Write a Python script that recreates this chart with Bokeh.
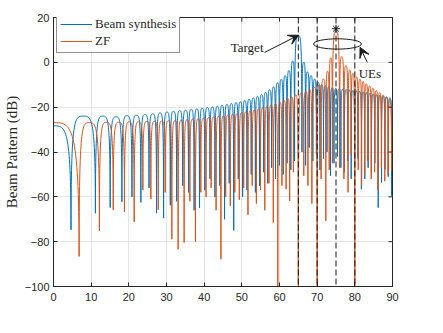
import math
from bokeh.plotting import figure
from bokeh.models import (FixedTicker, Span, Label, Arrow, VeeHead, Range1d)
from bokeh.embed import file_html
from bokeh.resources import INLINE

# ---------------- data ----------------
x_ticks = [0, 10, 20, 30, 40, 50, 60, 70, 80, 90]
y_ticks = [-100, -80, -60, -40, -20, 0, 20]
marked_angles = [65, 70, 75, 80]

# Beam synthesis: value at phi=0, null positions/depths, lobe peaks between nulls, value at phi=90
blue_start = -28.3
blue_null_x = [4.65, 11.13, 15.05, 18.16, 20.83, 23.20, 25.36, 27.35, 29.23, 31.01,
               32.69, 34.30, 35.84, 37.33, 38.77, 40.17, 41.53, 42.86, 44.15, 45.41,
               46.64, 47.85, 49.05, 50.21, 51.36, 52.49, 53.60, 54.69, 55.78, 56.84,
               57.90, 58.94, 59.97, 60.99, 62.01, 63.01, 64.00, 65.96, 66.93, 67.89,
               68.85, 69.80, 70.74, 71.68, 72.61, 73.54, 74.46, 75.39, 76.30, 77.22,
               78.13, 79.03, 79.94, 80.84, 81.74, 82.64, 83.53, 84.42, 85.32, 86.21,
               87.09, 87.99, 88.87, 89.76]
blue_null_y = [-74.7, -67.3, -64.8, -62.2, -60.0, -62.5, -56.0, -67.3, -69.5, -63.7,
               -62.0, -55.0, -58.0, -66.0, -65.0, -57.0, -52.0, -60.0, -55.0, -70.0,
               -54.0, -75.0, -52.0, -60.0, -57.0, -50.0, -58.0, -55.0, -49.0, -54.0,
               -47.0, -52.0, -46.0, -50.0, -45.0, -48.0, -44.0, -40.0, -46.0, -38.0,
               -44.0, -41.0, -48.0, -43.0, -40.0, -50.6, -45.0, -42.0, -47.0, -49.0,
               -44.0, -52.0, -46.0, -43.0, -56.6, -52.0, -47.0, -50.0, -45.0, -64.8,
               -53.6, -47.7, -51.0, -59.5]
blue_peak_y = [-24.0, -24.0, -24.3, -23.8, -23.6, -23.3, -23.0, -22.6, -22.2, -21.9,
               -21.6, -21.4, -21.0, -20.8, -20.5, -20.2, -19.9, -19.6, -19.2, -18.8,
               -18.4, -18.0, -17.6, -17.1, -16.5, -15.9, -15.2, -14.4, -13.4, -12.3,
               -11.0, -9.2, -7.6, -6.0, -3.7, 0.5, 12.0, 0.0, -4.3, -6.0,
               -7.5, -9.0, -10.0, -10.6, -11.0, -11.3, -11.6, -11.8, -12.0, -12.2,
               -12.4, -12.6, -12.8, -13.0, -13.3, -13.6, -13.9, -14.2, -14.5, -14.8,
               -15.1, -15.4, -15.8]
blue_end = -17.0

# ZF
orange_start = -26.9
orange_null_x = [6.80, 12.19, 15.86, 18.84, 21.42, 23.73, 25.85, 27.81, 29.66, 31.42,
                 33.09, 34.68, 36.21, 37.68, 39.11, 40.50, 41.85, 43.17, 44.45, 45.71,
                 46.94, 48.14, 49.33, 50.49, 51.63, 52.75, 53.86, 54.96, 56.10, 57.20,
                 58.35, 59.55, 60.65, 61.75, 62.70, 63.70, 65.00, 66.45, 67.55, 68.60,
                 70.00, 71.05, 72.30, 73.20, 74.05, 75.95, 77.10, 78.20, 79.05, 80.00,
                 80.90, 81.80, 82.60, 83.45, 84.35, 85.25, 86.15, 87.05, 87.95, 88.85,
                 89.75]
orange_null_y = [-86.6, -75.2, -65.8, -66.7, -71.2, -57.0, -61.0, -65.8, -58.0, -78.9,
                 -83.4, -80.4, -62.0, -80.1, -58.0, -60.0, -56.0, -66.0, -87.8, -60.0,
                 -64.0, -58.0, -61.3, -56.0, -68.0, -55.0, -63.0, -57.0, -66.0, -54.0,
                 -71.5, -120.0, -55.0, -56.6, -61.8, -49.0, -120.0, -50.6, -55.0, -63.0,
                 -120.0, -52.0, -70.7, -48.0, -45.0, -47.0, -52.0, -58.0, -41.0, -120.0,
                 -48.0, -55.0, -50.0, -44.0, -52.0, -49.0, -57.0, -47.0, -53.0, -50.0,
                 -48.0]
orange_peak_y = [-26.9, -26.8, -26.7, -26.6, -26.5, -26.4, -26.3, -26.2, -26.1, -26.0,
                 -25.8, -25.6, -25.4, -25.2, -25.0, -24.7, -24.4, -24.1, -23.8, -23.5,
                 -23.2, -22.9, -22.5, -22.1, -21.7, -21.3, -20.8, -20.3, -19.7, -19.1,
                 -18.5, -17.8, -17.0, -16.2, -15.4, -14.5, -13.8, -13.0, -12.2, -11.2,
                 -10.0, -7.5, -4.0, 2.0, 14.0, 2.5, -1.5, -3.5, -5.0, -6.5,
                 -7.6, -8.6, -9.6, -10.6, -11.6, -12.6, -13.6, -14.6, -15.6, -16.6]
orange_end = -19.0

ue_peak = [75.0, 15.0]

BLUE = "#0072BD"
ORANGE = "#D95319"
AX = "#262626"


def lobe_segments(start, nx, ny, py, end, x_min=0.0, x_max=90.0):
    """Each lobe: cubic curve from null to peak (vertical at the null, flat at the peak)."""
    d = {k: [] for k in ("x0", "y0", "x1", "y1", "cx0", "cy0", "cx1", "cy1")}

    def add(xa, ya, xb, yb, c0, c1):
        d["x0"].append(xa); d["y0"].append(ya)
        d["x1"].append(xb); d["y1"].append(yb)
        d["cx0"].append(c0[0]); d["cy0"].append(c0[1])
        d["cx1"].append(c1[0]); d["cy1"].append(c1[1])

    def fall(xa, ya, xb, yb):   # peak -> null
        add(xa, ya, xb, yb, (xb - 0.3 * (xb - xa), ya), (xb, ya))

    def rise(xa, ya, xb, yb):   # null -> peak
        add(xa, ya, xb, yb, (xa, yb), (xa + 0.3 * (xb - xa), yb))

    fall(x_min, start, nx[0], ny[0])
    for i in range(len(nx) - 1):
        xm = 0.5 * (nx[i] + nx[i + 1])
        rise(nx[i], ny[i], xm, py[i])
        fall(xm, py[i], nx[i + 1], ny[i + 1])
    rise(nx[-1], ny[-1], x_max, end)
    return d


p = figure(width=420, height=317, output_backend="svg", toolbar_location=None,
           x_range=Range1d(x_ticks[0], x_ticks[-1]), y_range=Range1d(y_ticks[0], y_ticks[-1]),
           min_border_left=49, min_border_right=28, min_border_top=17, min_border_bottom=31)
p.background_fill_color = "white"
p.border_fill_color = "white"
p.outline_line_color = AX
p.outline_line_width = 1

blue = lobe_segments(blue_start, blue_null_x, blue_null_y, blue_peak_y, blue_end)
orange = lobe_segments(orange_start, orange_null_x, orange_null_y, orange_peak_y, orange_end)

p.bezier(source=blue, x0="x0", y0="y0", x1="x1", y1="y1", cx0="cx0", cy0="cy0",
         cx1="cx1", cy1="cy1", line_color=BLUE, line_width=1, legend_label="Beam synthesis")
p.bezier(source=orange, x0="x0", y0="y0", x1="x1", y1="y1", cx0="cx0", cy0="cy0",
         cx1="cx1", cy1="cy1", line_color=ORANGE, line_width=1, legend_label="ZF")

for a in marked_angles:
    p.add_layout(Span(location=a, dimension="height", line_color="#1a1a1a",
                      line_dash="6 3", line_width=1))

p.scatter(x=[ue_peak[0]], y=[ue_peak[1]], marker="asterisk", size=8,
          line_color="#1a1a1a", line_width=1)
p.ellipse(x=[75.4], y=[8.2], width=[12.7], height=[4.6], fill_color=None,
          line_color="#1a1a1a", line_width=1)

# inward tick marks on the right and top frame edges (half of each dash is clipped by the frame)
p.scatter(x=[x_ticks[-1]] * len(y_ticks), y=y_ticks, marker="dash", size=8,
          line_color=AX, line_width=1)
p.scatter(x=x_ticks, y=[y_ticks[-1]] * len(x_ticks), marker="dash", size=8,
          angle=math.pi / 2, line_color=AX, line_width=1)

# axes
for ax in (p.xaxis[0], p.yaxis[0]):
    ax.major_tick_in = 4
    ax.major_tick_out = 0
    ax.minor_tick_line_color = None
    ax.axis_line_color = AX
    ax.major_tick_line_color = AX
    ax.major_label_text_font = "Liberation Sans"
    ax.major_label_text_font_size = "11px"
    ax.major_label_text_color = AX
p.xaxis[0].ticker = FixedTicker(ticks=x_ticks)
p.yaxis[0].ticker = FixedTicker(ticks=y_ticks)
p.xaxis[0].major_label_standoff = 6
p.yaxis[0].major_label_standoff = 4
p.yaxis[0].axis_label = "Beam Pattern (dB)"
p.yaxis[0].axis_label_text_font = "Liberation Serif"
p.yaxis[0].axis_label_text_font_size = "15px"
p.yaxis[0].axis_label_text_font_style = "normal"
p.yaxis[0].axis_label_text_color = AX
p.yaxis[0].axis_label_standoff = 2

p.xgrid.ticker = FixedTicker(ticks=x_ticks)
p.ygrid.ticker = FixedTicker(ticks=y_ticks)
p.xgrid.grid_line_color = "#e4e4e4"
p.ygrid.grid_line_color = "#e4e4e4"

# x-axis label (placed under the tick labels, kept inside the canvas)
p.add_layout(Label(x=45, y=-108.7, text="ϕ",
                   text_font="Liberation Serif", text_font_size="16px",
                   text_font_style="italic", text_align="center", text_baseline="middle",
                   text_color=AX))

# annotations
p.add_layout(Label(x=51.4, y=6.6, text="Target", text_font="Liberation Serif",
                   text_font_size="13px", text_align="center", text_baseline="middle",
                   text_color="#1a1a1a"))
p.add_layout(Label(x=84.0, y=-4.8, text="UEs", text_font="Liberation Serif",
                   text_font_size="13px", text_align="center", text_baseline="middle",
                   text_color="#1a1a1a"))
p.add_layout(Arrow(end=VeeHead(size=10, fill_color="#1a1a1a", line_color="#1a1a1a"),
                   x_start=56.0, y_start=4.4, x_end=65.05, y_end=12.1,
                   line_color="#1a1a1a", line_width=1))
p.add_layout(Arrow(end=VeeHead(size=10, fill_color="#1a1a1a", line_color="#1a1a1a"),
                   x_start=83.3, y_start=0.0, x_end=81.4, y_end=6.7,
                   line_color="#1a1a1a", line_width=1))

# legend
lg = p.legend[0]
lg.location = (3, 233)
lg.margin = 0
lg.padding = 3
lg.spacing = 1
lg.glyph_width = 32
lg.glyph_height = 14
lg.label_height = 14
lg.label_standoff = 3
lg.label_text_font = "Liberation Serif"
lg.label_text_font_size = "13px"
lg.label_text_color = AX
lg.border_line_color = AX
lg.border_line_width = 1
lg.background_fill_alpha = 1

open("out.html", "w").write(file_html(p, INLINE))
